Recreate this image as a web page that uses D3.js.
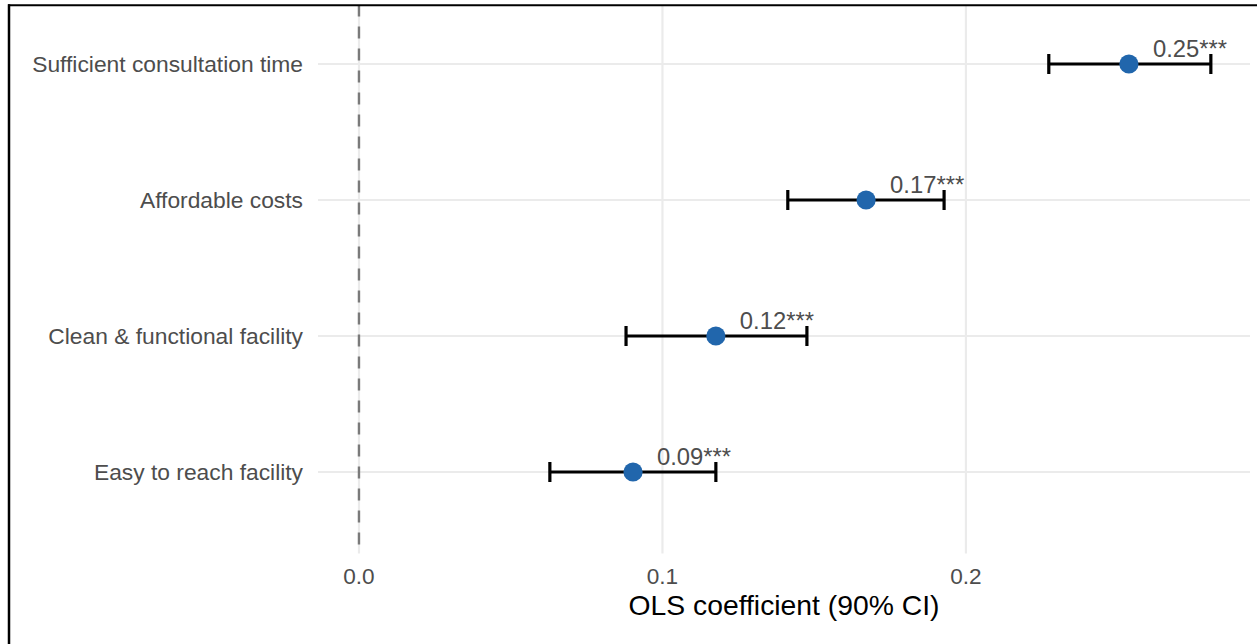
<!DOCTYPE html>
<html>
<head>
<meta charset="utf-8">
<script src="https://cdn.jsdelivr.net/npm/d3@7"></script>
<style>
  html, body { margin: 0; padding: 0; background: #ffffff; }
  svg { display: block; font-family: "Liberation Sans", Arial, Helvetica, sans-serif; }
</style>
</head>
<body>
<svg id="chart" width="1257" height="644"></svg>
<script>
// ---- Data ----
const categories = ["Sufficient consultation time", "Affordable costs", "Clean & functional facility", "Easy to reach facility"];
const estimates = [0.2537, 0.1671, 0.1176, 0.0903];
const ciLow = [0.2273, 0.1413, 0.0880, 0.0629];
const ciHigh = [0.2807, 0.1928, 0.1476, 0.1176];
const pointLabels = ["0.25***", "0.17***", "0.12***", "0.09***"];
const xTicks = [0, 0.1, 0.2];
const xTickLabels = ["0.0", "0.1", "0.2"];
const xTitle = "OLS coefficient (90% CI)";

const rows = categories.map((c, i) => ({ cat: c, est: estimates[i], lo: ciLow[i], hi: ciHigh[i], lab: pointLabels[i] }));

// ---- Layout ----
const W = 1257, H = 644;
const panel = { left: 318, right: 1250, top: -17.6, bottom: 553.6 };

const svg = d3.select("#chart");

const x = d3.scaleLinear().domain([-0.0135, 0.2936]).range([panel.left, panel.right]);
const y = d3.scalePoint().domain(categories).range([panel.top, panel.bottom]).padding(0.6);

// clip for panel (image is cropped by the frame)
svg.append("defs").append("clipPath").attr("id", "clip")
  .append("rect").attr("x", 10).attr("y", 6).attr("width", W).attr("height", H);

const g = svg.append("g").attr("clip-path", "url(#clip)");

// gridlines
g.selectAll(".vgrid").data(xTicks).enter().append("line")
  .attr("x1", d => x(d)).attr("x2", d => x(d))
  .attr("y1", panel.top).attr("y2", panel.bottom)
  .attr("stroke", "#ebebeb").attr("stroke-width", 2.2);

g.selectAll(".hgrid").data(categories).enter().append("line")
  .attr("x1", panel.left).attr("x2", panel.right)
  .attr("y1", d => y(d)).attr("y2", d => y(d))
  .attr("stroke", "#ebebeb").attr("stroke-width", 2.2);

// zero reference line
g.append("line")
  .attr("x1", x(0)).attr("x2", x(0))
  .attr("y1", panel.top).attr("y2", panel.bottom)
  .attr("stroke", "#7a7a7a").attr("stroke-width", 2.4)
  .attr("stroke-dasharray", "12,10");

// error bars
const capH = 10;
const eb = g.selectAll(".eb").data(rows).enter().append("g");
eb.append("line")
  .attr("x1", d => x(d.lo)).attr("x2", d => x(d.hi))
  .attr("y1", d => y(d.cat)).attr("y2", d => y(d.cat))
  .attr("stroke", "#000").attr("stroke-width", 3.2);
eb.append("line")
  .attr("x1", d => x(d.lo)).attr("x2", d => x(d.lo))
  .attr("y1", d => y(d.cat) - capH).attr("y2", d => y(d.cat) + capH)
  .attr("stroke", "#000").attr("stroke-width", 3.2);
eb.append("line")
  .attr("x1", d => x(d.hi)).attr("x2", d => x(d.hi))
  .attr("y1", d => y(d.cat) - capH).attr("y2", d => y(d.cat) + capH)
  .attr("stroke", "#000").attr("stroke-width", 3.2);

// points
g.selectAll(".pt").data(rows).enter().append("circle")
  .attr("cx", d => x(d.est)).attr("cy", d => y(d.cat))
  .attr("r", 9.6).attr("fill", "#2166ac");

// point labels
g.selectAll(".lab").data(rows).enter().append("text")
  .attr("x", d => x(d.est) + 24).attr("y", d => y(d.cat) - 7)
  .attr("fill", "#4d4d4d").attr("font-size", "23.8px")
  .text(d => d.lab);

// y axis labels
svg.selectAll(".ylab").data(categories).enter().append("text")
  .attr("x", 303).attr("y", d => y(d) + 8)
  .attr("text-anchor", "end").attr("fill", "#4d4d4d").attr("font-size", "22.8px")
  .text(d => d);

// x tick labels
svg.selectAll(".xlab").data(xTicks).enter().append("text")
  .attr("x", d => x(d)).attr("y", 584)
  .attr("text-anchor", "middle").attr("fill", "#4d4d4d").attr("font-size", "22.6px")
  .text((d, i) => xTickLabels[i]);

// x title
svg.append("text")
  .attr("x", (panel.left + panel.right) / 2).attr("y", 615)
  .attr("text-anchor", "middle").attr("fill", "#000").attr("font-size", "28.3px")
  .text(xTitle);

// frame (top and left edges)
svg.append("line").attr("x1", 8).attr("x2", W).attr("y1", 5.3).attr("y2", 5.3)
  .attr("stroke", "#000").attr("stroke-width", 2);
svg.append("line").attr("x1", 9).attr("x2", 9).attr("y1", 4.3).attr("y2", H)
  .attr("stroke", "#000").attr("stroke-width", 2.5);
</script>
</body>
</html>
